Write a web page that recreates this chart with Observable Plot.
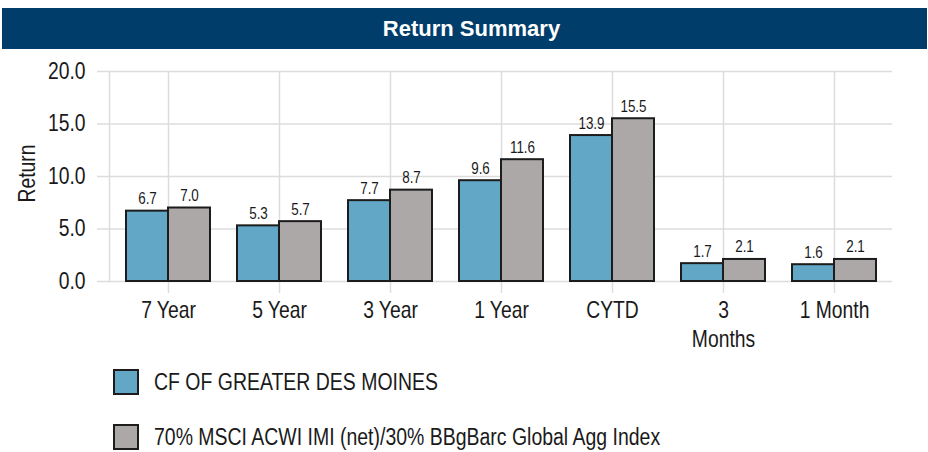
<!DOCTYPE html>
<html>
<head>
<meta charset="utf-8">
<script src="https://cdn.jsdelivr.net/npm/d3@7"></script>
<script src="https://cdn.jsdelivr.net/npm/@observablehq/plot@0.6"></script>
<style>
  html, body { margin: 0; padding: 0; background: #fff; }
  #wrap { width: 928px; height: 452px; position: relative; overflow: hidden; }
  #title {
    position: absolute; left: 2px; top: 8px; width: 925px; height: 41px;
    background: #003d6b; color: #fff;
    font-family: "Liberation Sans", Arial, sans-serif; font-weight: bold; font-size: 22px;
    display: flex; align-items: center; justify-content: center;
    padding-left: 14px; box-sizing: border-box;
  }
  #chart { position: absolute; left: 0; top: 49px; }
  #legend { position: absolute; left: 0; top: 360px; width: 928px;
    font-family: "Liberation Sans Narrow", "Arial Narrow", "Liberation Sans", sans-serif; font-size: 23px; color: #1a1a1a; }
  .row { position: absolute; left: 113px; display: flex; align-items: center; height: 26px; white-space: nowrap; }
  .sw { width: 22px; height: 22px; border: 2px solid #1c1c1c; margin-right: 15px; flex: none; }
  .lab { display: inline-block; transform: scaleX(0.846); transform-origin: 0 50%; }
</style>
</head>
<body>
<div id="wrap">
  <div id="title">Return Summary</div>
  <div id="chart"></div>
  <div id="legend"></div>
</div>
<script>
const categories = ["7 Year", "5 Year", "3 Year", "1 Year", "CYTD", "3 Months", "1 Month"];
const fundValues = [6.7, 5.3, 7.7, 9.6, 13.9, 1.7, 1.6];
const benchValues = [7.0, 5.7, 8.7, 11.6, 15.5, 2.1, 2.1];
const seriesNames = ["CF OF GREATER DES MOINES", "70% MSCI ACWI IMI (net)/30% BBgBarc Global Agg Index"];
const seriesColors = ["#62a7c5", "#aca8a7"];
const yTicks = [0, 5, 10, 15, 20];
const yLabel = "Return";

const fund = categories.map((c, i) => ({category: c, value: fundValues[i]}));
const bench = categories.map((c, i) => ({category: c, value: benchValues[i]}));

const font = '"Liberation Sans Narrow", "Arial Narrow", "Liberation Sans", sans-serif';
const grid = "#dcdcdc";

const chart = Plot.plot({
  width: 928,
  height: 311,
  marginLeft: 109,
  marginRight: 36,
  marginTop: 22,
  marginBottom: 79,
  style: {fontFamily: font, fontSize: "23px", color: "#1a1a1a", background: "transparent", overflow: "visible"},
  x: {domain: categories, paddingInner: 0.625, paddingOuter: 0.3125, axis: null},
  y: {domain: [0, 20], axis: null},
  marks: [
    Plot.gridY(yTicks, {stroke: grid, strokeOpacity: 1, strokeWidth: 1.5}),
    Plot.gridX(categories, {stroke: grid, strokeOpacity: 1, strokeWidth: 1.5}),
    Plot.frame({anchor: "left", stroke: grid, strokeOpacity: 1, strokeWidth: 1.5}),
    Plot.axisY(yTicks, {tickSize: 12, tickPadding: 12, stroke: grid, strokeOpacity: 1, strokeWidth: 1.5, fill: "#1a1a1a", tickFormat: d3.format(".1f"), label: null}),
    Plot.axisX(categories, {tickSize: 12, tickPadding: 4, stroke: grid, strokeOpacity: 1, strokeWidth: 1.5, fill: "#1a1a1a", lineHeight: 1.25,
      tickFormat: d => d.replace(/^(\d+) (Months)$/, "$1\n$2"), label: null}),
    Plot.text([yLabel], {frameAnchor: "left", textAnchor: "middle", rotate: -90, dx: -82, dy: -3, fill: "#1a1a1a", fontSize: 23}),
    Plot.barY(fund, {x: "category", y: "value", fill: seriesColors[0], stroke: "#1c1c1c", strokeWidth: 2, dx: -21}),
    Plot.barY(bench, {x: "category", y: "value", fill: seriesColors[1], stroke: "#1c1c1c", strokeWidth: 2, dx: 21}),
    Plot.text(fund, {x: "category", y: "value", text: d => d3.format(".1f")(d.value), dx: -21, dy: -7, lineAnchor: "bottom", fontSize: 16, fill: "#1a1a1a"}),
    Plot.text(bench, {x: "category", y: "value", text: d => d3.format(".1f")(d.value), dx: 21, dy: -7, lineAnchor: "bottom", fontSize: 16, fill: "#1a1a1a"})
  ]
});

// condense the SVG text horizontally (narrow face look) around each text's anchor
const squeeze = 0.84;
chart.querySelectorAll("text").forEach(t => {
  const tr = t.getAttribute("transform") || "";
  t.setAttribute("transform", `${tr} scale(${squeeze},1)`);
});
document.getElementById("chart").appendChild(chart);

const legend = document.getElementById("legend");
const rowTops = [9, 64];
seriesNames.forEach((name, i) => {
  const row = document.createElement("div");
  row.className = "row";
  row.style.top = rowTops[i] + "px";
  const sw = document.createElement("div");
  sw.className = "sw";
  sw.style.background = seriesColors[i];
  const label = document.createElement("span");
  label.className = "lab";
  label.textContent = name;
  row.appendChild(sw);
  row.appendChild(label);
  legend.appendChild(row);
});
</script>
</body>
</html>
